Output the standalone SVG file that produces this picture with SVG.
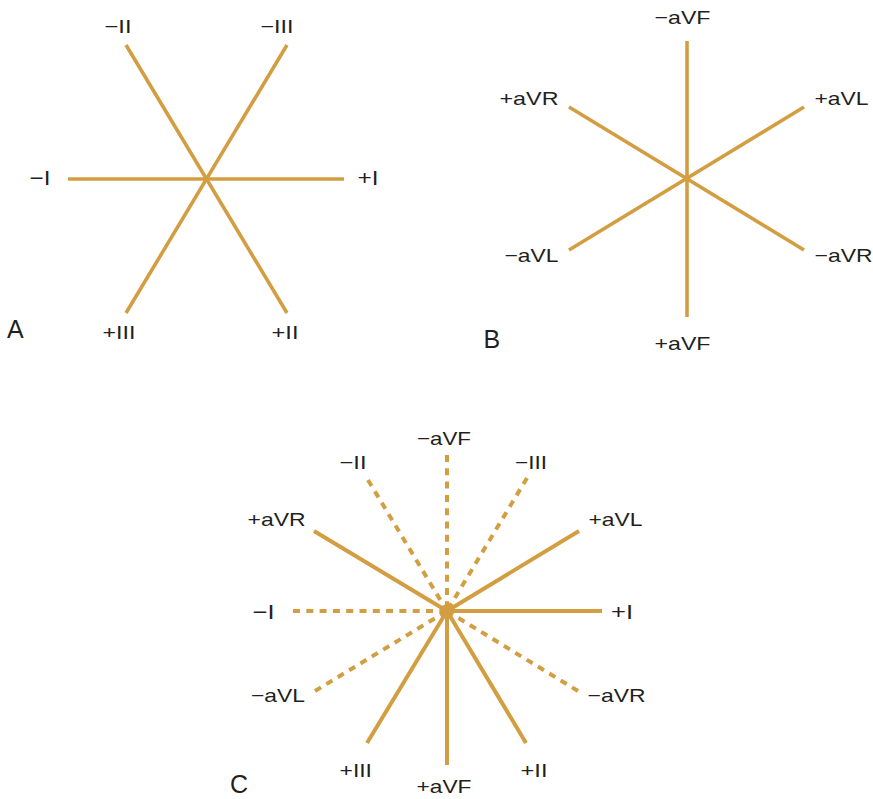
<svg xmlns="http://www.w3.org/2000/svg" width="873" height="799" viewBox="0 0 873 799">
<style>
.ax{stroke:#D39E41;stroke-width:3.6;fill:none;stroke-linecap:butt}
.axc{stroke:#D39E41;stroke-width:4;fill:none}
.dash{stroke-dasharray:7 6.3}
.lb{font-family:"Liberation Sans",Arial,Helvetica,sans-serif;font-size:18.5px;fill:#231F20}
.lbi{font-family:"Liberation Sans",Arial,Helvetica,sans-serif;font-size:21px;fill:#231F20}
.pn{font-family:"Liberation Sans",Arial,Helvetica,sans-serif;font-size:25px;fill:#231F20}
</style>
<rect width="873" height="799" fill="#FFFFFF"/>
<g id="connectors">
  <g id="panelA-axes">
    <line class="ax" x1="68" y1="179" x2="344" y2="179"/>
    <line class="ax" x1="126" y1="45" x2="287" y2="313"/>
    <line class="ax" x1="287" y1="45" x2="126" y2="313"/>
  </g>
  <g id="panelB-axes">
    <line class="ax" x1="687" y1="41" x2="687" y2="317"/>
    <line class="ax" x1="569" y1="107" x2="804" y2="250"/>
    <line class="ax" x1="804" y1="107" x2="569" y2="250"/>
  </g>
  <g id="panelC-axes">
    <line class="axc" x1="447" y1="611" x2="602" y2="611"/>
    <line class="axc" x1="447" y1="611" x2="447" y2="765"/>
    <line class="axc" x1="447" y1="611" x2="526" y2="743"/>
    <line class="axc" x1="447" y1="611" x2="367" y2="743"/>
    <line class="axc" x1="447" y1="611" x2="314" y2="531"/>
    <line class="axc" x1="447" y1="611" x2="579" y2="531"/>
    <line class="axc dash" x1="293" y1="611" x2="447" y2="611"/>
    <line class="axc dash" x1="447" y1="455" x2="447" y2="611"/>
    <line class="axc dash" x1="368" y1="480" x2="447" y2="611"/>
    <line class="axc dash" x1="527" y1="478" x2="447" y2="611"/>
    <line class="axc dash" x1="578" y1="691" x2="447" y2="611"/>
    <line class="axc dash" x1="315" y1="691" x2="447" y2="611"/>
  </g>
</g>
<g id="center-C"><circle cx="447" cy="611" r="6" fill="#D39E41"/></g>
<g id="panelA-labels">
  <text id="A-mII" class="lb" x="104.5" y="32.5" textLength="27" lengthAdjust="spacingAndGlyphs">−II</text>
  <text id="A-mIII" class="lb" x="260.5" y="32.5" textLength="33" lengthAdjust="spacingAndGlyphs">−III</text>
  <text id="A-mI" class="lbi" x="29.5" y="185" textLength="21" lengthAdjust="spacingAndGlyphs">−I</text>
  <text id="A-pI" class="lbi" x="357.5" y="185" textLength="21" lengthAdjust="spacingAndGlyphs">+I</text>
  <text id="A-pIII" class="lb" x="102.5" y="339" textLength="33" lengthAdjust="spacingAndGlyphs">+III</text>
  <text id="A-pII" class="lb" x="271.5" y="339" textLength="27" lengthAdjust="spacingAndGlyphs">+II</text>
  <text id="A" class="pn" x="7" y="338">A</text>
</g>
<g id="panelB-labels">
  <text id="B-maVF" class="lb" x="654.5" y="24" textLength="56" lengthAdjust="spacingAndGlyphs">−aVF</text>
  <text id="B-paVR" class="lb" x="499.5" y="105" textLength="59" lengthAdjust="spacingAndGlyphs">+aVR</text>
  <text id="B-paVL" class="lb" x="814.5" y="105" textLength="54" lengthAdjust="spacingAndGlyphs">+aVL</text>
  <text id="B-maVL" class="lb" x="504.5" y="262" textLength="54" lengthAdjust="spacingAndGlyphs">−aVL</text>
  <text id="B-maVR" class="lb" x="814.5" y="262" textLength="58" lengthAdjust="spacingAndGlyphs">−aVR</text>
  <text id="B-paVF" class="lb" x="654.5" y="350" textLength="56" lengthAdjust="spacingAndGlyphs">+aVF</text>
  <text id="B" class="pn" x="483.5" y="348">B</text>
</g>
<g id="panelC-labels">
  <text id="C-maVF" class="lb" x="417" y="445" textLength="54" lengthAdjust="spacingAndGlyphs">−aVF</text>
  <text id="C-mII" class="lb" x="339.5" y="469" textLength="27" lengthAdjust="spacingAndGlyphs">−II</text>
  <text id="C-mIII" class="lb" x="515" y="469" textLength="32" lengthAdjust="spacingAndGlyphs">−III</text>
  <text id="C-paVR" class="lb" x="247.5" y="526" textLength="58" lengthAdjust="spacingAndGlyphs">+aVR</text>
  <text id="C-paVL" class="lb" x="588.5" y="526" textLength="54" lengthAdjust="spacingAndGlyphs">+aVL</text>
  <text id="C-mI" class="lbi" x="252.5" y="619" textLength="22" lengthAdjust="spacingAndGlyphs">−I</text>
  <text id="C-pI" class="lbi" x="611" y="619" textLength="22" lengthAdjust="spacingAndGlyphs">+I</text>
  <text id="C-maVL" class="lb" x="251" y="702" textLength="54" lengthAdjust="spacingAndGlyphs">−aVL</text>
  <text id="C-maVR" class="lb" x="587.5" y="702" textLength="58" lengthAdjust="spacingAndGlyphs">−aVR</text>
  <text id="C-pIII" class="lb" x="339.5" y="777" textLength="32.5" lengthAdjust="spacingAndGlyphs">+III</text>
  <text id="C-paVF" class="lb" x="416.5" y="793" textLength="55" lengthAdjust="spacingAndGlyphs">+aVF</text>
  <text id="C-pII" class="lb" x="520.5" y="777" textLength="27" lengthAdjust="spacingAndGlyphs">+II</text>
  <text id="C" class="pn" x="230" y="793">C</text>
</g>
</svg>
